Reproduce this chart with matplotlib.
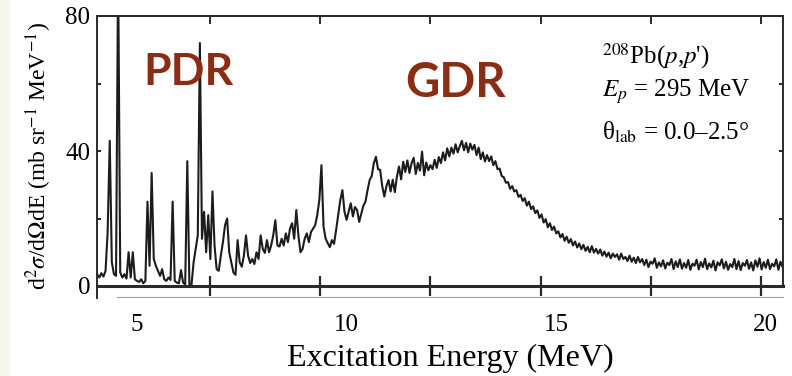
import numpy as np
import matplotlib.pyplot as plt
from matplotlib.lines import Line2D
from matplotlib.patches import Rectangle

plt.rcParams['font.family'] = ['Liberation Serif', 'DejaVu Serif']
plt.rcParams['mathtext.fontset'] = 'stix'

# spectrum channels: first channel and step (MeV)
e_start = 4.05
e_step = 0.05

# d2sigma/dOmega dE (mb/sr/MeV)
sigma_pdr = [  # 4.05 - 7.00 MeV
    3.5, 2.5, 3.8, 2.8, 4.5, 16.0, 43.0, 7.0, 3.5, 3.0,
    95.0, 4.0, 2.5, 3.5, 2.2, 10.0, 2.5, 10.0, 2.0, 1.5,
    1.2, 2.0, 0.8, 1.5, 25.0, 6.0, 33.5, 8.0, 6.0, 4.5,
    3.0, 5.0, 2.0, 1.5, 2.5, 1.8, 25.0, 1.5, 1.0, 0.8,
    4.7, 1.0, 0.5, 37.0, 0.5, 0.3, 7.0, 11.0, 15.0, 72.0,
    14.0, 22.0, 10.0, 21.0, 8.0, 28.0, 12.0, 5.0, 4.5, 9.0,
]
sigma_rise = [  # 7.05 - 11.00 MeV
    13.0, 18.0, 20.0, 10.0, 7.0, 4.0, 3.3, 13.6, 7.0, 5.7,
    9.0, 15.0, 9.0, 6.8, 8.0, 6.5, 10.0, 8.0, 15.0, 11.0,
    9.8, 13.6, 10.0, 12.0, 15.0, 19.5, 12.0, 11.7, 14.0, 12.0,
    15.6, 13.0, 17.0, 18.6, 14.0, 22.5, 15.0, 10.0, 11.0, 14.0,
    15.6, 13.0, 16.0, 17.0, 18.0, 21.0, 25.5, 35.8, 17.6, 14.0,
    12.7, 11.5, 13.6, 12.5, 16.6, 21.0, 25.5, 28.4, 22.0, 19.6,
    22.0, 24.5, 20.6, 23.4, 22.5, 19.0, 21.4, 23.8, 25.0, 28.4,
    31.4, 32.6, 36.4, 38.3, 34.6, 34.4, 29.6, 26.5, 29.6, 31.4,
]
sigma_gdr = [  # 11.05 - 15.00 MeV
    28.0, 31.5, 27.8, 32.4, 35.4, 31.6, 36.8, 33.8, 37.2, 33.5,
    36.4, 38.0, 33.2, 36.5, 34.2, 39.8, 32.8, 36.6, 34.3, 35.8,
    34.6, 37.4, 35.0, 38.2, 36.4, 39.6, 37.2, 40.8, 38.4, 41.0,
    39.2, 42.0, 39.6, 41.4, 43.0, 40.2, 42.4, 39.6, 42.2, 40.4,
    41.8, 38.8, 41.0, 37.6, 39.6, 36.9, 38.8, 37.0, 38.4, 35.8,
    37.0, 34.6, 34.8, 32.6, 32.2, 30.6, 30.8, 28.8, 29.6, 28.0,
    28.4, 26.4, 27.0, 25.2, 26.0, 23.8, 25.0, 22.8, 23.6, 21.6,
    22.4, 20.2, 21.2, 18.8, 19.8, 17.4, 18.6, 16.6, 17.6, 15.6,
]
sigma_tail = [  # 15.05 - 20.40 MeV
    16.2, 14.4, 15.4, 13.4, 14.6, 12.8, 13.9, 12.0, 13.2, 11.4,
    12.6, 10.9, 12.2, 10.4, 11.6, 10.0, 11.8, 9.9, 11.0, 9.6,
    10.8, 9.0, 10.2, 8.7, 9.9, 8.2, 9.6, 8.6, 9.4, 7.8,
    9.6, 8.0, 8.6, 7.4, 9.0, 7.2, 8.4, 6.8, 8.6, 7.0,
    8.0, 6.2, 7.8, 5.6, 7.2, 6.6, 8.2, 5.4, 7.0, 5.8,
    7.6, 5.2, 6.9, 6.2, 8.0, 5.0, 7.3, 5.6, 7.9, 5.1,
    6.8, 5.4, 7.7, 4.8, 6.6, 6.0, 7.8, 4.9, 7.1, 5.6,
    8.1, 5.0, 6.7, 5.5, 7.5, 4.6, 7.0, 6.1, 7.9, 5.2,
    7.2, 4.8, 6.5, 5.6, 8.0, 5.0, 7.4, 4.7, 6.8, 6.0,
    7.7, 5.1, 7.0, 4.6, 7.6, 5.7, 8.2, 4.9, 7.1, 5.4,
    7.8, 5.0, 6.6, 5.8, 7.9, 4.8, 7.2, 5.6,
]

x_labels = [5, 10, 15, 20]
y_labels = [0, 40, 80]
y_minor = [20, 60]

sigma = np.concatenate([sigma_pdr, sigma_rise, sigma_gdr, sigma_tail])
energy = e_start + e_step * np.arange(len(sigma))

fig = plt.figure(figsize=(7.92, 3.76), dpi=100)
fig.add_artist(Rectangle((0, 0), 9 / 792, 1, transform=fig.transFigure,
                         color='#f6f6ee', zorder=0))

ax = fig.add_axes([97 / 792, 90 / 376, 686 / 792, 270 / 376])
ax.plot(energy, sigma, color='#1c1c1c', lw=1.5)
ax.set_xlim(4.046, 20.41)
ax.set_ylim(0, 80)

# frame
for side, lw in [('top', 1.4), ('bottom', 2.2), ('left', 1.4), ('right', 1.4)]:
    ax.spines[side].set_linewidth(lw)
    ax.spines[side].set_color('#2a2a2a')

# x axis: labels on their own, tick marks every ~2.6 MeV
x_marks = np.arange(6.74, 20.3, 2.63)
ax.set_xticks(x_labels)
ax.set_xticklabels([str(v) for v in x_labels])
ax.set_xticks(x_marks, minor=True)
ax.tick_params(axis='x', which='major', length=0, pad=20, labelsize=18)
ax.tick_params(axis='x', which='minor', direction='inout', length=14,
               width=1.6, color='#2a2a2a')
top = ax.secondary_xaxis('top')
top.set_xticks(x_marks)
top.tick_params(direction='in', length=6, width=1.4, labeltop=False,
                color='#2a2a2a')
top.spines['top'].set_linewidth(1.4)

ax.set_yticks(y_labels)
ax.set_yticks(y_minor, minor=True)
ax.tick_params(axis='y', which='both', direction='in', length=3, width=1.2,
               left=True, right=True, pad=5, labelsize=18)

ax.set_xlabel('Excitation Energy (MeV)', fontsize=23)
ax.xaxis.set_label_coords(0.5146, -0.215)
ax.set_ylabel(r'd$^2\sigma$/d$\Omega$dE (mb sr$^{-1}$ MeV$^{-1}$)', fontsize=17)
ax.yaxis.set_label_coords(-0.063, 0.48)

# reaction info
ax.text(0.736, 0.826, r"$^{208}$Pb($p$,$p$')", transform=ax.transAxes,
        fontsize=18, va='baseline')
ax.text(0.736, 0.70, r'$E_p$ = 295 MeV', transform=ax.transAxes,
        fontsize=18, va='baseline')
ax.text(0.736, 0.541, r'θ$_{\mathrm{lab}}$ = 0.0–2.5°', transform=ax.transAxes,
        fontsize=18, va='baseline')

# resonance labels
red = '#8b2c14'
ax.text(0.067, 0.744, 'PDR', transform=ax.transAxes, fontsize=32,
        family='Lato', weight='bold', color=red, va='baseline')
ax.text(0.449, 0.70, 'GDR', transform=ax.transAxes, fontsize=34,
        family='Lato', weight='bold', color=red, va='baseline')

# leftovers of the original frame below the axis
fig.add_artist(Line2D([117 / 792, 783 / 792], [1 - 297 / 376] * 2,
                      color='#a0a0a0', lw=0.8))
fig.add_artist(Line2D([97 / 792] * 2, [1 - 286 / 376, 1 - 298 / 376],
                      color='#2a2a2a', lw=1.4))

fig.savefig('out.png', dpi=100)
